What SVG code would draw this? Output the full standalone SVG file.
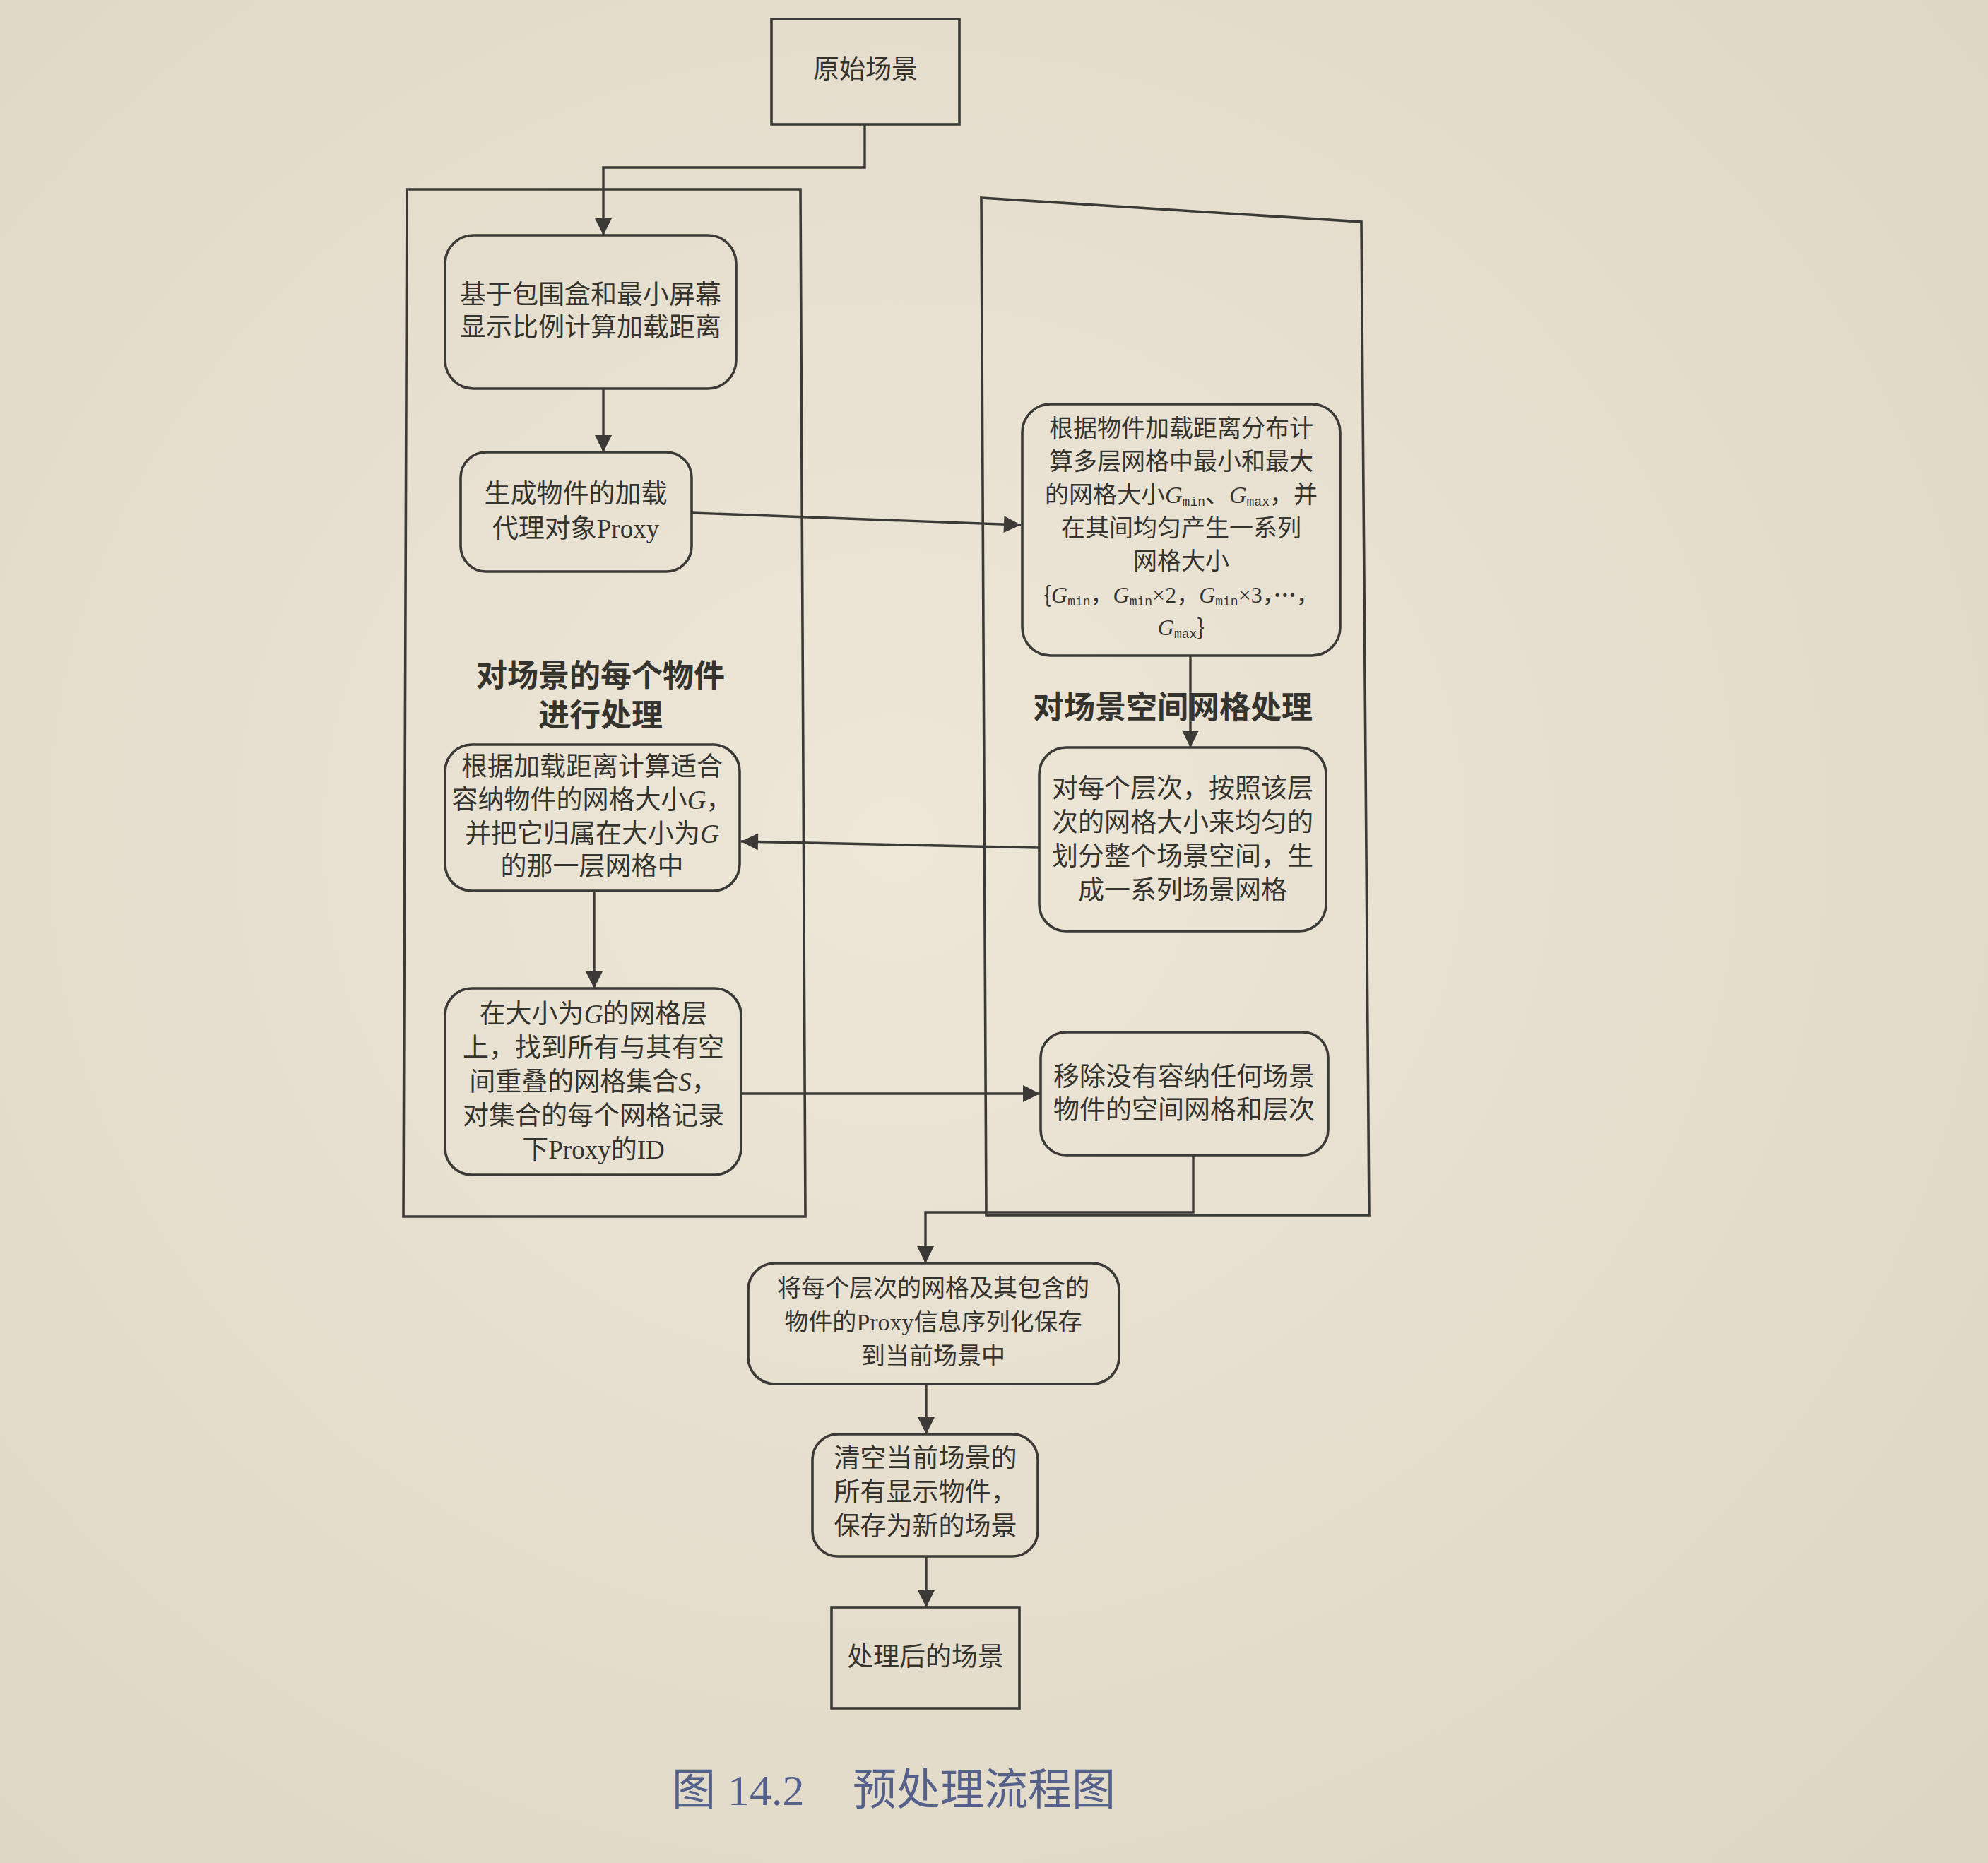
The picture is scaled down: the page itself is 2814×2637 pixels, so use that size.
<svg xmlns="http://www.w3.org/2000/svg" xml:lang="zh-CN" width="2814" height="2637" viewBox="0 0 2814 2637">
<defs>
<style>
.ln{fill:none;stroke:#3b3a37;stroke-width:3.4}
.bx{fill:none;stroke:#3b3a37;stroke-width:3.6}
.t{font-family:"Noto Sans CJK SC","Liberation Serif",sans-serif;font-size:37px;fill:#35332e;text-anchor:middle}
.s{font-size:34px}
.xs{font-size:32px}
.lat{font-family:"Liberation Serif",serif}
.it{font-family:"Liberation Serif",serif;font-style:italic}
.sub{font-family:"Liberation Mono",monospace;font-size:18px}
.lb{font-family:"Noto Sans CJK SC",sans-serif;font-size:44px;font-weight:bold;fill:#35332e;text-anchor:middle}
.cap{font-size:62px;fill:#55618a}
</style>
<marker id="ah" viewBox="0 0 10 10" refX="10" refY="5" markerWidth="30" markerHeight="24" markerUnits="userSpaceOnUse" orient="auto">
<path d="M0,0 L10,5 L0,10 z" fill="#3b3a37"/>
</marker>
<radialGradient id="bg" cx="0.45" cy="0.45" r="0.75">
<stop offset="0" stop-color="#ede7d8"/>
<stop offset="1" stop-color="#ded6c4"/>
</radialGradient>
</defs>
<rect x="0" y="0" width="2814" height="2637" fill="url(#bg)"/>

<g id="containers">
<path class="bx" d="M576,268 L1133,268 L1140,1722 L571,1722 Z"/>
<path class="bx" d="M1389,280 L1927,314 L1938,1720 L1396,1720 Z"/>
</g>

<g id="labels">
<text class="lb" x="850" y="972">对场景的每个物件</text>
<text class="lb" x="850" y="1028">进行处理</text>
<text class="lb" x="1660" y="1017">对场景空间网格处理</text>
</g>

<g id="connectors">
<path class="ln" d="M1224,176 L1224,237 L854,237 L854,333" marker-end="url(#ah)"/>
<path class="ln" d="M854,550 L854,640" marker-end="url(#ah)"/>
<path class="ln" d="M980,726 L1445,743" marker-end="url(#ah)"/>
<path class="ln" d="M1685,928 L1685,1058" marker-end="url(#ah)"/>
<path class="ln" d="M1471,1200 L1049,1191" marker-end="url(#ah)"/>
<path class="ln" d="M841,1261 L841,1399" marker-end="url(#ah)"/>
<path class="ln" d="M1049,1548 L1472,1548" marker-end="url(#ah)"/>
<path class="ln" d="M1689,1635 L1689,1716 L1310,1716 L1310,1788" marker-end="url(#ah)"/>
<path class="ln" d="M1311,1959 L1311,2030" marker-end="url(#ah)"/>
<path class="ln" d="M1311,2203 L1311,2275" marker-end="url(#ah)"/>
</g>

<g id="start">
<rect class="bx" x="1092" y="27" width="266" height="149"/>
<text class="t" x="1225" y="111">原始场景</text>
</g>

<g id="loaddist">
<rect class="bx" x="630" y="333" width="412" height="217" rx="40"/>
<text class="t" x="836" y="430">基于包围盒和最小屏幕</text>
<text class="t" x="836" y="476">显示比例计算加载距离</text>
</g>

<g id="proxy">
<rect class="bx" x="652" y="640" width="327" height="169" rx="36"/>
<text class="t" x="815" y="712">生成物件的加载</text>
<text class="t" x="815" y="761">代理对象<tspan class="lat">Proxy</tspan></text>
</g>

<g id="gridsizes">
<rect class="bx" x="1447" y="572" width="450" height="356" rx="40"/>
<text class="t s" x="1672" y="618">根据物件加载距离分布计</text>
<text class="t s" x="1672" y="665">算多层网格中最小和最大</text>
<text class="t s" x="1672" y="712">的网格大小<tspan class="it">G</tspan><tspan class="sub" dy="4">min</tspan><tspan dy="-4">、</tspan><tspan class="it">G</tspan><tspan class="sub" dy="4">max</tspan><tspan dy="-4">，并</tspan></text>
<text class="t s" x="1672" y="759">在其间均匀产生一系列</text>
<text class="t s" x="1672" y="806">网格大小</text>
<text class="t xs" x="1672" y="853">{<tspan class="it">G</tspan><tspan class="sub" dy="4">min</tspan><tspan dy="-4">，</tspan><tspan class="it">G</tspan><tspan class="sub" dy="4">min</tspan><tspan dy="-4" class="lat">×2</tspan>，<tspan class="it">G</tspan><tspan class="sub" dy="4">min</tspan><tspan dy="-4" class="lat">×3</tspan>，<tspan class="lat" style="font-weight:bold">···</tspan>，</text>
<text class="t xs" x="1672" y="899"><tspan class="it">G</tspan><tspan class="sub" dy="4">max</tspan><tspan dy="-4">}</tspan></text>
</g>

<g id="assignlayer">
<rect class="bx" x="630" y="1054" width="417" height="207" rx="38"/>
<text class="t" x="838" y="1098">根据加载距离计算适合</text>
<text class="t" x="838" y="1145">容纳物件的网格大小<tspan class="it">G</tspan>，</text>
<text class="t" x="838" y="1193">并把它归属在大小为<tspan class="it">G</tspan></text>
<text class="t" x="838" y="1239">的那一层网格中</text>
</g>

<g id="splitspace">
<rect class="bx" x="1471" y="1058" width="406" height="260" rx="38"/>
<text class="t" x="1674" y="1129">对每个层次，按照该层</text>
<text class="t" x="1674" y="1177">次的网格大小来均匀的</text>
<text class="t" x="1674" y="1225">划分整个场景空间，生</text>
<text class="t" x="1674" y="1273">成一系列场景网格</text>
</g>

<g id="recordid">
<rect class="bx" x="630" y="1399" width="419" height="264" rx="38"/>
<text class="t" x="840" y="1448">在大小为<tspan class="it">G</tspan>的网格层</text>
<text class="t" x="840" y="1496">上，找到所有与其有空</text>
<text class="t" x="840" y="1544">间重叠的网格集合<tspan class="it">S</tspan>，</text>
<text class="t" x="840" y="1592">对集合的每个网格记录</text>
<text class="t" x="840" y="1640">下<tspan class="lat">Proxy</tspan>的<tspan class="lat">ID</tspan></text>
</g>

<g id="removeempty">
<rect class="bx" x="1473" y="1461" width="407" height="174" rx="36"/>
<text class="t" x="1676" y="1537">移除没有容纳任何场景</text>
<text class="t" x="1676" y="1584">物件的空间网格和层次</text>
</g>

<g id="serialize">
<rect class="bx" x="1059" y="1788" width="525" height="171" rx="38"/>
<text class="t s" x="1321" y="1835">将每个层次的网格及其包含的</text>
<text class="t s" x="1321" y="1883">物件的<tspan class="lat">Proxy</tspan>信息序列化保存</text>
<text class="t s" x="1321" y="1931">到当前场景中</text>
</g>

<g id="clear">
<rect class="bx" x="1150" y="2030" width="319" height="173" rx="36"/>
<text class="t" x="1310" y="2077">清空当前场景的</text>
<text class="t" x="1310" y="2125">所有显示物件，</text>
<text class="t" x="1310" y="2173">保存为新的场景</text>
</g>

<g id="end">
<rect class="bx" x="1177" y="2275" width="266" height="143"/>
<text class="t" x="1310" y="2358">处理后的场景</text>
</g>

<g id="caption">
<text class="t cap" x="951" y="2555" style="text-anchor:start">图</text>
<text class="lat cap" x="1030" y="2555">14.2</text>
<text class="t cap" x="1207" y="2555" style="text-anchor:start">预处理流程图</text>
</g>
</svg>
